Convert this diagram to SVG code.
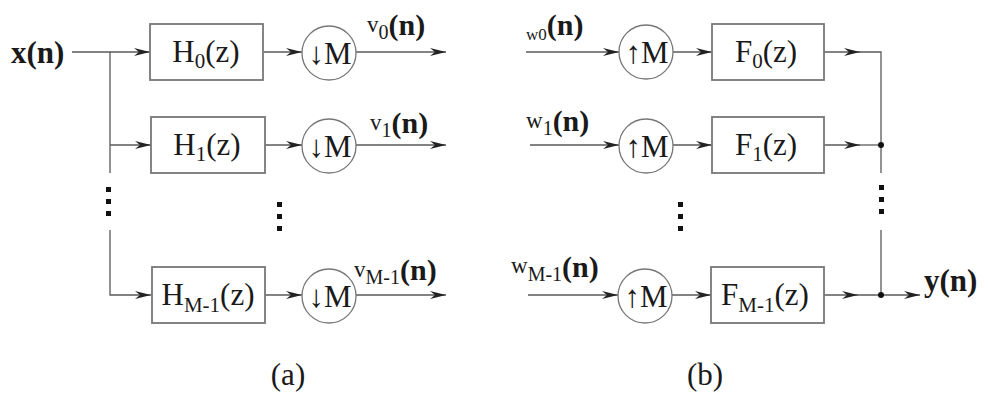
<svg xmlns="http://www.w3.org/2000/svg" width="988" height="394" viewBox="0 0 988 394">
<defs>
<style>
.ln{stroke:#5a5a5a;stroke-width:1.3;fill:none}
.bx{stroke:#777;stroke-width:1.8;fill:#fff}
.cc{stroke:#777;stroke-width:1.3;fill:#fff}
.t{font-family:"Liberation Serif","Times New Roman",serif;fill:#1a1a1a;font-size:31px}
.dot{fill:#111}
</style>
<marker id="ah" viewBox="0 0 16 8" refX="16" refY="4" markerWidth="17" markerHeight="8" markerUnits="userSpaceOnUse" orient="auto">
<path d="M0,0 L16,4 L0,8 L5,4 Z" fill="#222"/>
</marker>
</defs>
<rect width="988" height="394" fill="#fff"/>

<g id="connectors">
<path class="ln" d="M72,52 H110 V173"/>
<path class="ln" d="M110,52 H150" marker-end="url(#ah)"/>
<path class="ln" d="M110,145 H151" marker-end="url(#ah)"/>
<path class="ln" d="M110,230 V295 H151" marker-end="url(#ah)"/>
<path class="ln" d="M264,52 H302" marker-end="url(#ah)"/>
<path class="ln" d="M265,145 H302" marker-end="url(#ah)"/>
<path class="ln" d="M265,295 H302" marker-end="url(#ah)"/>
<path class="ln" d="M356,52 H446" marker-end="url(#ah)"/>
<path class="ln" d="M356,145 H446" marker-end="url(#ah)"/>
<path class="ln" d="M356,295 H446" marker-end="url(#ah)"/>
<path class="ln" d="M526,52 H619" marker-end="url(#ah)"/>
<path class="ln" d="M530,145 H619" marker-end="url(#ah)"/>
<path class="ln" d="M528,295 H618" marker-end="url(#ah)"/>
<path class="ln" d="M673,52 H712" marker-end="url(#ah)"/>
<path class="ln" d="M673,145 H712" marker-end="url(#ah)"/>
<path class="ln" d="M672,295 H711" marker-end="url(#ah)"/>
<path class="ln" d="M824,52 H860" marker-end="url(#ah)"/>
<path class="ln" d="M858,52 H881 V173"/>
<path class="ln" d="M824,145 H860" marker-end="url(#ah)"/>
<path class="ln" d="M858,145 H881"/>
<path class="ln" d="M824,295 H858" marker-end="url(#ah)"/>
<path class="ln" d="M856,295 H920" marker-end="url(#ah)"/>
<path class="ln" d="M881,230 V295"/>
<circle class="dot" cx="881" cy="145" r="3"/>
<circle class="dot" cx="881" cy="295" r="3"/>
</g>

<g id="x-in"><text class="t" x="11" y="63" font-weight="bold" font-size="30">x(n)</text></g>

<g id="H0"><rect class="bx" x="150" y="24" width="113" height="56"/>
<text class="t" x="206" y="62" text-anchor="middle">H<tspan font-size="21" dy="6">0</tspan><tspan dy="-6">(z)</tspan></text></g>
<g id="H1"><rect class="bx" x="151" y="117" width="114" height="56"/>
<text class="t" x="207" y="155" text-anchor="middle">H<tspan font-size="21" dy="6">1</tspan><tspan dy="-6">(z)</tspan></text></g>
<g id="HM1"><rect class="bx" x="152" y="267" width="113" height="56"/>
<text class="t" x="208" y="305" text-anchor="middle">H<tspan font-size="21" dy="7">M-1</tspan><tspan dy="-7">(z)</tspan></text></g>

<g id="down0"><circle class="cc" cx="329" cy="53" r="27"/><text class="t" x="330" y="64" text-anchor="middle" font-size="33">↓M</text></g>
<g id="down1"><circle class="cc" cx="329" cy="146" r="27"/><text class="t" x="330" y="157" text-anchor="middle" font-size="33">↓M</text></g>
<g id="downM1"><circle class="cc" cx="329" cy="296" r="27"/><text class="t" x="330" y="307" text-anchor="middle" font-size="33">↓M</text></g>

<g id="v0"><text class="t" x="367" y="32"><tspan font-size="23">v</tspan><tspan font-size="20" dy="7">0</tspan><tspan dy="-4" font-weight="bold" font-size="30">(n)</tspan></text></g>
<g id="v1"><text class="t" x="370" y="130"><tspan font-size="23">v</tspan><tspan font-size="20" dy="7">1</tspan><tspan dy="-4" font-weight="bold" font-size="30">(n)</tspan></text></g>
<g id="vM1"><text class="t" x="354" y="277"><tspan font-size="23">v</tspan><tspan font-size="20" dy="7">M-1</tspan><tspan dy="-4" font-weight="bold" font-size="30">(n)</tspan></text></g>

<g id="dots-a">
<rect class="dot" x="106" y="187" width="5" height="5"/><rect class="dot" x="106" y="199" width="5" height="5"/><rect class="dot" x="106" y="211" width="5" height="5"/>
<rect class="dot" x="277" y="202" width="5" height="5"/><rect class="dot" x="277" y="214" width="5" height="5"/><rect class="dot" x="277" y="226" width="5" height="5"/>
</g>
<g id="label-a"><text class="t" x="288" y="385" text-anchor="middle" font-size="26">(a)</text></g>

<g id="w0"><text class="t" x="526" y="40"><tspan font-size="17">w0</tspan><tspan dy="-5" font-weight="bold" font-size="30">(n)</tspan></text></g>
<g id="w1"><text class="t" x="526" y="128"><tspan font-size="23">w</tspan><tspan font-size="20" dy="7">1</tspan><tspan dy="-4" font-weight="bold" font-size="30">(n)</tspan></text></g>
<g id="wM1"><text class="t" x="511" y="273"><tspan font-size="23">w</tspan><tspan font-size="20" dy="8">M-1</tspan><tspan dy="-4" font-weight="bold" font-size="30">(n)</tspan></text></g>

<g id="up0"><circle class="cc" cx="646" cy="52" r="27"/><text class="t" x="647" y="63" text-anchor="middle" font-size="33">↑M</text></g>
<g id="up1"><circle class="cc" cx="646" cy="146" r="27"/><text class="t" x="647" y="157" text-anchor="middle" font-size="33">↑M</text></g>
<g id="upM1"><circle class="cc" cx="645" cy="296" r="27"/><text class="t" x="646" y="307" text-anchor="middle" font-size="33">↑M</text></g>

<g id="F0"><rect class="bx" x="712" y="24" width="112" height="56"/>
<text class="t" x="766" y="62" text-anchor="middle">F<tspan font-size="21" dy="6">0</tspan><tspan dy="-6">(z)</tspan></text></g>
<g id="F1"><rect class="bx" x="712" y="117" width="112" height="56"/>
<text class="t" x="766" y="155" text-anchor="middle">F<tspan font-size="21" dy="6">1</tspan><tspan dy="-6">(z)</tspan></text></g>
<g id="FM1"><rect class="bx" x="711" y="267" width="113" height="56"/>
<text class="t" x="765" y="305" text-anchor="middle">F<tspan font-size="21" dy="7">M-1</tspan><tspan dy="-7">(z)</tspan></text></g>

<g id="dots-b">
<rect class="dot" x="879" y="185" width="5" height="5"/><rect class="dot" x="879" y="197" width="5" height="5"/><rect class="dot" x="879" y="209" width="5" height="5"/>
<rect class="dot" x="678" y="202" width="5" height="5"/><rect class="dot" x="678" y="214" width="5" height="5"/><rect class="dot" x="678" y="226" width="5" height="5"/>
</g>

<g id="y-out"><text class="t" x="924" y="291" font-weight="bold" font-size="30">y(n)</text></g>
<g id="label-b"><text class="t" x="705" y="385" text-anchor="middle" font-size="26">(b)</text></g>
</svg>
